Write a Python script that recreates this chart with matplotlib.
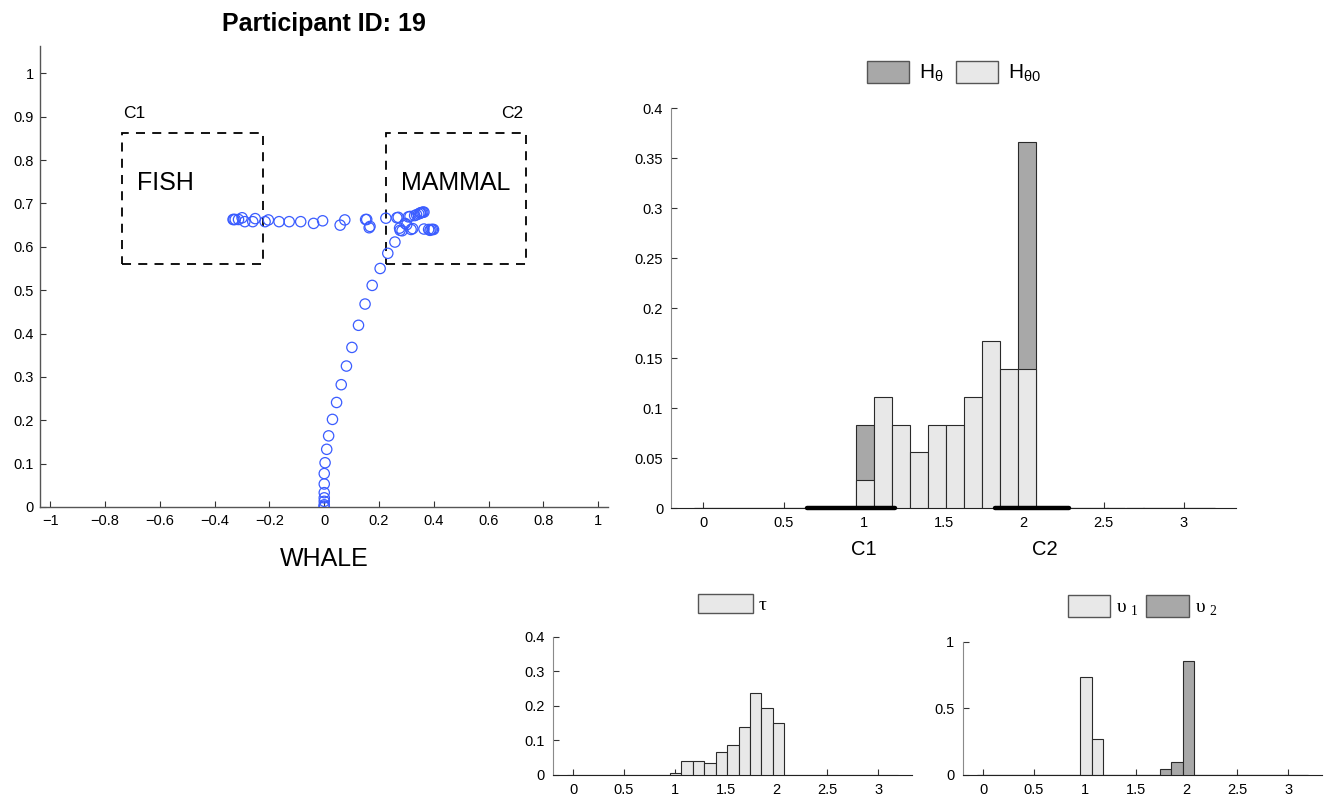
import matplotlib
matplotlib.use('Agg')
import matplotlib.pyplot as plt
from matplotlib.patches import Patch, Rectangle
from matplotlib.ticker import FuncFormatter
import numpy as np

plt.rcParams['font.family'] = ['Liberation Sans', 'DejaVu Sans']
plt.rcParams['axes.unicode_minus'] = True

# ---------------- data ----------------
title = "Participant ID: 19"

# trajectory points (WHALE)
traj_x = [0, 0, 0, 0, 0, 0, 0, 0,
          0.003, 0.009, 0.016, 0.030, 0.045, 0.062, 0.081, 0.101, 0.125, 0.149,
          0.175, 0.204, 0.232, 0.258, 0.284, 0.275, 0.301, 0.317, 0.323, 0.364,
          0.381, 0.386, 0.390, 0.395, 0.399,
          0.307, 0.313, 0.330, 0.337, 0.345, 0.350, 0.352, 0.356, 0.360, 0.364,
          0.265, 0.277, 0.295, 0.270, 0.225, 0.167, 0.164, 0.155, 0.151, 0.075,
          0.058, -0.006, -0.039, -0.086, -0.128, -0.165, -0.204, -0.216, -0.252,
          -0.261, -0.290, -0.300, -0.313, -0.325, -0.330, -0.333]
traj_y = [0, 0.002, 0.005, 0.013, 0.021, 0.033, 0.053, 0.077,
          0.102, 0.133, 0.164, 0.202, 0.241, 0.282, 0.325, 0.368, 0.419, 0.468,
          0.511, 0.550, 0.585, 0.611, 0.637, 0.643, 0.651, 0.640, 0.642, 0.641,
          0.640, 0.638, 0.640, 0.640, 0.640,
          0.669, 0.670, 0.672, 0.674, 0.676, 0.678, 0.678, 0.679, 0.680, 0.680,
          0.667, 0.638, 0.654, 0.668, 0.666, 0.647, 0.644, 0.663, 0.663, 0.662,
          0.650, 0.660, 0.654, 0.658, 0.658, 0.658, 0.662, 0.658, 0.665,
          0.658, 0.658, 0.667, 0.663, 0.663, 0.663, 0.663]

# category boxes
box_c1 = (-0.7375, 0.5600, 0.5125, 0.3025)   # x, y, w, h
box_c2 = (0.2250, 0.5600, 0.5125, 0.3025)

# histogram bins (angles)
bin_centers = [0.000, 0.112, 0.224, 0.337, 0.449, 0.561, 0.673, 0.785, 0.898,
               1.010, 1.122, 1.234, 1.346, 1.458, 1.571, 1.683, 1.795, 1.907,
               2.019, 2.132, 2.244, 2.356, 2.468, 2.580, 2.693, 2.805, 2.917,
               3.029, 3.142]
bin_width = 0.1122

H_theta = [0, 0, 0, 0, 0, 0, 0, 0, 0,
           0.0833, 0, 0, 0, 0, 0, 0, 0, 0, 0.3660,
           0, 0, 0, 0, 0, 0, 0, 0, 0, 0]
H_theta0 = [0, 0, 0, 0, 0, 0, 0, 0, 0,
            0.0278, 0.1111, 0.0833, 0.0556, 0.0833, 0.0833, 0.1111, 0.1667, 0.1389, 0.1389,
            0, 0, 0, 0, 0, 0, 0, 0, 0, 0]
tau = [0, 0, 0, 0, 0, 0, 0, 0, 0,
       0.0067, 0.0410, 0.0395, 0.0340, 0.0675, 0.0860, 0.1380, 0.2360, 0.1930, 0.1490,
       0, 0, 0, 0, 0, 0, 0, 0, 0, 0]
ups1 = [0, 0, 0, 0, 0, 0, 0, 0, 0,
        0.7325, 0.2675, 0, 0, 0, 0, 0, 0, 0, 0,
        0, 0, 0, 0, 0, 0, 0, 0, 0, 0]
ups2 = [0, 0, 0, 0, 0, 0, 0, 0, 0,
        0, 0, 0, 0, 0, 0, 0, 0.0450, 0.0950, 0.8575,
        0, 0, 0, 0, 0, 0, 0, 0, 0, 0]

c1_range = (0.645, 1.197)
c2_range = (1.822, 2.284)

LIGHT = '#e8e8e8'
DARK = '#a8a8a8'
EDGE = '#2a2a2a'

def fmt(v, pos=None):
    if abs(v) < 1e-9:
        return '0'
    s = '%g' % round(v, 4)
    return s.replace('-', '\u2212')

# ---------------- figure ----------------
fig = plt.figure(figsize=(13.27, 7.96), dpi=100)

# ---- left trajectory axes ----
ax = fig.add_axes([0.0305, 0.3631, 0.4277, 0.5785])
ax.scatter(traj_x, traj_y, s=55, facecolors='none', edgecolors='#3a5cff', linewidths=0.9, zorder=3)
for (bx, by, bw, bh) in (box_c1, box_c2):
    ax.add_patch(Rectangle((bx, by), bw, bh, fill=False, ec='black', lw=1.3,
                           ls=(0, (5, 4)), zorder=2))
ax.text(-0.735, 0.9085, 'C1', fontsize=12.5, ha='left', va='center')
ax.text(0.726, 0.9085, 'C2', fontsize=12.5, ha='right', va='center')
ax.text(-0.684, 0.7475, 'FISH', fontsize=18, ha='left', va='center')
ax.text(0.280, 0.7475, 'MAMMAL', fontsize=18, ha='left', va='center')
ax.set_xlim(-1.036, 1.036)
ax.set_ylim(0, 1.062)
ax.set_xticks(np.arange(-1, 1.01, 0.2))
ax.set_yticks(np.arange(0, 1.01, 0.1))
ax.xaxis.set_major_formatter(FuncFormatter(fmt))
ax.yaxis.set_major_formatter(FuncFormatter(fmt))
ax.tick_params(direction='in', length=4, labelsize=10.5, pad=5, color='#333333')
for sp in ('top', 'right'):
    ax.spines[sp].set_visible(False)
for sp in ('left', 'bottom'):
    ax.spines[sp].set_color('#555555')
    ax.spines[sp].set_linewidth(1.0)
ax.set_xlabel('WHALE', fontsize=18, labelpad=14)
ax.set_title(title, fontsize=18, fontweight='bold', pad=11)

def style_hist(a, yticks, ylim):
    a.set_xlim(-0.2, 3.33)
    a.set_ylim(*ylim)
    a.set_xticks([0, 0.5, 1, 1.5, 2, 2.5, 3])
    a.set_yticks(yticks)
    a.xaxis.set_major_formatter(FuncFormatter(fmt))
    a.yaxis.set_major_formatter(FuncFormatter(fmt))
    a.tick_params(direction='in', length=4, labelsize=10.5, pad=6, color='#333333')
    for sp in ('top', 'right'):
        a.spines[sp].set_visible(False)
    a.spines['left'].set_color('#8a8a8a')
    a.spines['bottom'].set_color('#222222')

# ---- big histogram ----
axh = fig.add_axes([0.5060, 0.3618, 0.4258, 0.5022])
axh.bar(bin_centers, H_theta, width=bin_width, color=DARK, edgecolor=EDGE, linewidth=0.8, zorder=2)
axh.bar(bin_centers, H_theta0, width=bin_width, color=LIGHT, edgecolor=EDGE, linewidth=0.8, zorder=3)
for r in (c1_range, c2_range):
    axh.plot(r, [0, 0], color='black', lw=3.2, solid_capstyle='round', zorder=4, clip_on=False)
style_hist(axh, [0, 0.05, 0.1, 0.15, 0.2, 0.25, 0.3, 0.35, 0.4], (0, 0.4))
axh.text(0.999, -0.105, 'C1', transform=axh.get_xaxis_transform(), fontsize=14.5,
         ha='center', va='center')
axh.text(2.134, -0.105, 'C2', transform=axh.get_xaxis_transform(), fontsize=14.5,
         ha='center', va='center')
leg = fig.legend(handles=[Patch(facecolor=DARK, edgecolor='#555555', label=r'H$_\mathregular{θ}$'),
                          Patch(facecolor=LIGHT, edgecolor='#555555', label=r'H$_\mathregular{θ0}$')],
                 loc='center', bbox_to_anchor=(0.719, 0.909), ncol=2, frameon=False,
                 fontsize=15, handlelength=2.0, handleheight=1.28, handletextpad=0.5,
                 columnspacing=0.6)

# ---- tau histogram ----
axt = fig.add_axes([0.4165, 0.0264, 0.2706, 0.1737])
axt.bar(bin_centers, tau, width=bin_width, color=LIGHT, edgecolor=EDGE, linewidth=0.8, zorder=3)
style_hist(axt, [0, 0.1, 0.2, 0.3, 0.4], (0, 0.4))
legt = fig.legend(handles=[Patch(facecolor=LIGHT, edgecolor='#555555', label='τ')],
                  loc='center', bbox_to_anchor=(0.552, 0.241), frameon=False,
                  fontsize=14, handlelength=2.8, handleheight=1.15, handletextpad=0.3)
for t in legt.get_texts():
    t.set_fontfamily(['Liberation Serif', 'DejaVu Serif'])

# ---- upsilon histogram ----
axu = fig.add_axes([0.7255, 0.0264, 0.2706, 0.1675])
axu.bar(bin_centers, ups1, width=bin_width, color=LIGHT, edgecolor=EDGE, linewidth=0.8, zorder=3)
axu.bar(bin_centers, ups2, width=bin_width, color=DARK, edgecolor=EDGE, linewidth=0.8, zorder=3)
style_hist(axu, [0, 0.5, 1], (0, 1))
legu = fig.legend(handles=[Patch(facecolor=LIGHT, edgecolor='#555555', label=r'υ$_\mathregular{\ 1}$'),
                           Patch(facecolor=DARK, edgecolor='#555555', label=r'υ$_\mathregular{\ 2}$')],
                  loc='center', bbox_to_anchor=(0.861, 0.238), ncol=2, frameon=False,
                  fontsize=14, handlelength=2.2, handleheight=1.3, handletextpad=0.3,
                  columnspacing=0.4)
for t in legu.get_texts():
    t.set_fontfamily(['Liberation Serif', 'DejaVu Serif'])

fig.savefig('out.png', dpi=100)
